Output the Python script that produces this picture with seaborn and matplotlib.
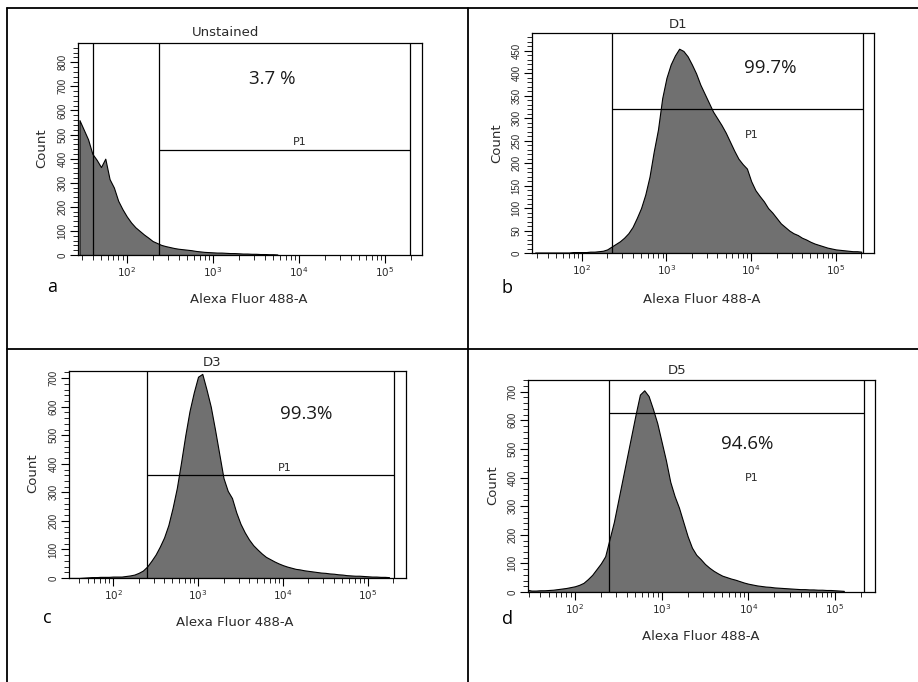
import numpy as np
import seaborn as sns
import matplotlib.pyplot as plt
from matplotlib.lines import Line2D

# counts read every 0.05 decade of Alexa Fluor 488-A, starting at log10 = 1.45
bin_start = 1.45
bin_step = 0.05

unstained = [560, 520, 480, 420, 395, 365, 400, 315, 280, 225, 190, 160, 135, 115, 100,
             85, 72, 58, 50, 42, 37, 33, 29, 26, 24, 22, 20, 17, 15, 13, 12, 11, 10, 10,
             9, 8, 8, 7, 6, 6, 5, 5, 4, 4, 3, 3, 2]
d1 = [1, 1, 1, 1, 1, 1, 1, 1, 1, 2, 2, 2, 2, 3, 3, 4, 5, 8, 14, 20, 26, 34, 44, 58, 78,
      100, 130, 170, 226, 275, 345, 390, 420, 440, 455, 450, 438, 420, 400, 375, 355,
      335, 315, 300, 285, 268, 248, 228, 210, 198, 188, 160, 140, 127, 115, 100, 90, 78,
      66, 58, 50, 44, 40, 34, 30, 25, 21, 18, 15, 12, 10, 8, 7, 6, 5, 4, 4, 3]
d3 = [0, 0, 0, 0, 1, 2, 3, 3, 4, 4, 4, 5, 5, 5, 7, 9, 12, 18, 26, 40, 60, 82, 110, 142,
      185, 245, 315, 405, 500, 585, 650, 705, 715, 660, 600, 520, 435, 350, 305, 280, 230,
      190, 160, 135, 115, 100, 86, 74, 66, 58, 51, 45, 40, 36, 32, 30, 27, 25, 23, 21, 19,
      18, 16, 15, 13, 12, 10, 9, 8, 8, 7, 6, 5, 5, 4, 4, 3]
d5 = [8, 5, 5, 6, 6, 7, 8, 10, 12, 14, 17, 20, 25, 32, 45, 60, 80, 100, 125, 185, 245,
      320, 395, 470, 545, 620, 690, 705, 685, 640, 590, 525, 460, 385, 335, 295, 245, 195,
      155, 130, 115, 98, 85, 74, 65, 57, 52, 47, 43, 38, 33, 29, 26, 23, 21, 19, 18, 16,
      15, 14, 13, 12, 11, 10, 10, 9, 9, 8, 8, 7, 7, 6, 5, 4]

samples = [unstained, d1, d3, d5]
titles = ["Unstained", "D1", "D3", "D5"]
letters = ["a", "b", "c", "d"]
percents = ["3.7 %", "99.7%", "99.3%", "94.6%"]
gate_lo = [2.374, 2.358, 2.40, 2.39]
gate_hi = [5.29, 5.32, 5.31, 5.33]
gate_count = [436, 320, 360, 626]
y_max = [880, 490, 725, 741]
y_major = [100, 50, 100, 100]
y_minor = [20, 10, 20, 20]
x_lims = [(1.433, 5.43), (1.413, 5.45), (1.48, 5.45), (1.46, 5.46)]

W, H = 918, 682

# pixel layout: axes box (l, t, r, b) and text anchors
layout = [
    dict(box=(78, 43, 422, 255), title=(226, 33), ylab=(42, 148), xlab=(249, 299),
         letter=(52, 287), pct=(272, 79), p1=(300, 142)),
    dict(box=(532, 33, 874, 253), title=(678, 24), ylab=(497, 143), xlab=(702, 299),
         letter=(507, 288), pct=(770, 68), p1=(752, 135)),
    dict(box=(69, 371, 406, 578), title=(212, 362), ylab=(33, 473), xlab=(235, 623),
         letter=(47, 618), pct=(306, 414), p1=(285, 468)),
    dict(box=(528, 380, 875, 592), title=(677, 370), ylab=(493, 485), xlab=(701, 637),
         letter=(507, 619), pct=(747, 444), p1=(752, 478)),
]

sns.set_style("ticks")
plt.rcParams['font.family'] = ['DejaVu Sans']

fig = plt.figure(figsize=(W / 100, H / 100), dpi=100)


def px(x, y):
    return x / W, 1 - y / H


def put(x, y, s, **kw):
    fx, fy = px(x, y)
    fig.text(fx, fy, s, ha="center", va="center", **kw)


txt_color = "#2a2a2a"
minor_x = [np.log10(k * 10 ** n) for n in range(1, 6) for k in range(2, 10)]

for i, counts in enumerate(samples):
    lay = layout[i]
    l, t, r, b = lay["box"]
    ax = fig.add_axes([l / W, 1 - b / H, (r - l) / W, (b - t) / H])
    centers = bin_start + bin_step * np.arange(len(counts))
    sns.histplot(x=centers, weights=counts, binwidth=bin_step,
                 binrange=(centers[0] - bin_step / 2, centers[-1] + bin_step / 2),
                 element="poly", fill=True, color="#707070", edgecolor="black",
                 linewidth=0.8, alpha=1, ax=ax)

    # gates
    ax.axvline(gate_lo[i], color="black", lw=0.9)
    ax.axvline(gate_hi[i], color="black", lw=0.9)
    ax.hlines(gate_count[i], gate_lo[i], gate_hi[i], color="black", lw=0.9)
    if i == 0:
        ax.axvline(1.607, color="black", lw=0.9)

    ax.set_xlim(*x_lims[i])
    ax.set_ylim(0, y_max[i])
    ax.set_xlabel("")
    ax.set_ylabel("")

    ax.set_xticks([2, 3, 4, 5])
    ax.set_xticklabels([r"$10^{%d}$" % k for k in [2, 3, 4, 5]])
    lo, hi = x_lims[i]
    ax.set_xticks([m for m in minor_x if lo < m < hi], minor=True)
    ax.set_yticks(np.arange(0, y_max[i], y_major[i]))
    ax.set_yticks(np.arange(0, y_max[i], y_minor[i]), minor=True)
    ax.tick_params(which="major", direction="out", length=6, width=0.8,
                   pad=1.5, colors="black", labelcolor=txt_color)
    ax.tick_params(axis="x", which="major", labelsize=7.5)
    ax.tick_params(axis="y", which="major", labelsize=7)
    ax.tick_params(which="minor", direction="out", length=3.5, width=0.7)
    for lab in ax.get_yticklabels():
        lab.set_rotation(90)
        lab.set_va("center")
        lab.set_family("Liberation Sans")
    for sp in ax.spines.values():
        sp.set_visible(True)
        sp.set_linewidth(0.9)
        sp.set_color("black")

    put(*lay["title"], titles[i], fontsize=9.5, color=txt_color)
    put(*lay["ylab"], "Count", fontsize=9.5, color=txt_color, rotation=90)
    put(*lay["xlab"], "Alexa Fluor 488-A", fontsize=9.5, color=txt_color)
    put(*lay["letter"], letters[i], fontsize=13, color="black", family="Open Sans")
    put(*lay["pct"], percents[i], fontsize=13.5, color="#1a1a1a", family="Open Sans")
    put(*lay["p1"], "P1", fontsize=8, color=txt_color)

# table borders
for (x0, y0, x1, y1) in [(7, 8, 918, 8), (7, 8, 7, 682), (468, 8, 468, 682),
                         (7, 349, 918, 349)]:
    fx0, fy0 = px(x0, y0)
    fx1, fy1 = px(x1, y1)
    fig.add_artist(Line2D([fx0, fx1], [fy0, fy1], color="black", lw=1.3,
                          transform=fig.transFigure))

fig.savefig("out.png", dpi=100)
